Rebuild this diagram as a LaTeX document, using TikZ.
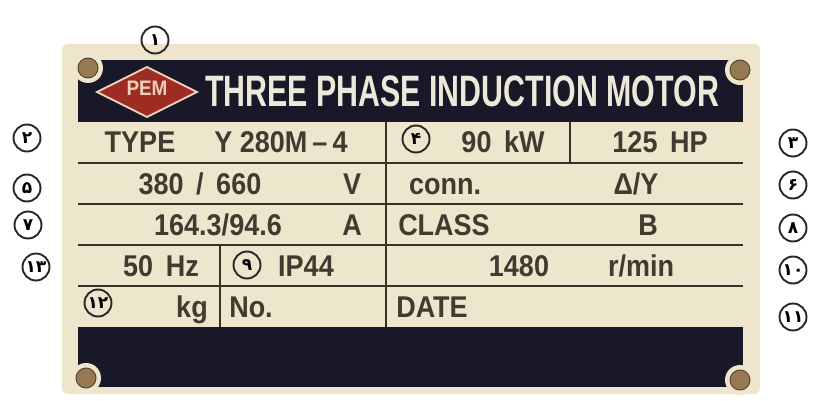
\documentclass[tikz,border=0pt]{standalone}
\usepackage{fontspec}
\usepackage{tikz}
\usetikzlibrary{shapes,arrows}
\usetikzlibrary{calc}

\newfontfamily\platefont[FakeStretch=0.9]{Liberation Sans}
\newfontfamily\titlefont[FakeStretch=0.69]{Liberation Sans}
\newfontfamily\fanum[Script=Arabic]{DejaVu Sans}

\definecolor{platecream}{RGB}{238,230,204}
\definecolor{bandblack}{RGB}{24,24,40}
\definecolor{inkbrown}{RGB}{66,58,48}
\definecolor{rulebrown}{RGB}{58,48,40}
\definecolor{logored}{RGB}{158,44,34}
\definecolor{logoedge}{RGB}{236,206,186}
\definecolor{rivetbrown}{RGB}{150,120,82}
\definecolor{titlewhite}{RGB}{236,232,218}

\tikzset{
	numcirc/.style={circle, draw=black!85, line width=1.9pt, minimum size=27pt, inner sep=0pt,
		font=\fanum\bfseries\fontsize{17}{17}\selectfont},
	cell/.style={anchor=base, inner sep=0pt, text=inkbrown,
		font=\platefont\bfseries\fontsize{30}{30}\selectfont},
	platerule/.style={draw=rulebrown, line width=2.6pt},
}

\begin{document}
\begin{tikzpicture}[x=1pt,y=-1pt]
	\useasboundingbox (0,0) rectangle (816,401);
	
	% plate
	\fill[platecream, rounded corners=6pt] (62,44) rectangle (760,394);
	
	% coordinate x of the rules
	\def\xl{78}  % left end
	\def\xr{743} % right end
	\def\xm{386} % middle rule
	\def\xs{570} % short rule, first row
	\def\xk{220} % short rule, last rows
	% coordinate y of the rows
	\def\yt{122} % top of the table
	\def\h{41}   % row height
	\def\yb{327} % bottom of the table
	
	% black bands
	\fill[bandblack] (\xl,60) rectangle (\xr,\yt);
	\fill[bandblack] (\xl,\yb) rectangle (\xr,387);
	
	% rivets
	\foreach \p in {(88,68),(740,70),(86,378),(740,380)}{
		\fill[platecream] \p circle (15);
		\draw[rivetbrown!60!black, fill=rivetbrown, line width=1pt] \p circle (10);
	}
	
	% logo
	\draw[fill=logored, draw=logoedge, line width=2pt] (97,92) -- (147,67) -- (197,92) -- (147,117) -- cycle;
	\node[text=logoedge, inner sep=0pt, font=\platefont\bfseries\fontsize{21}{21}\selectfont] (pem) at (147,88) {PEM};
	
	% title
	\node[anchor=base west, inner sep=0pt, text=titlewhite,
		font=\titlefont\bfseries\fontsize{44}{44}\selectfont] (title) at (205,107) {THREE PHASE INDUCTION MOTOR};
	
	% rules of the table
	\foreach \k in {1,...,4}
		\draw[platerule] (\xl,{\yt+\k*\h}) -- (\xr,{\yt+\k*\h});
	\draw[platerule] (\xm,\yt) -- (\xm,\yb);
	\draw[platerule] (\xs,\yt) -- (\xs,{\yt+\h});
	\draw[platerule] (\xk,{\yt+3*\h}) -- (\xk,\yb);
	
	% first row
	\node[cell] (type) at (140,153) {TYPE};
	\node[cell] (model) at (281,153) {Y 280M\,–\,4};
	\node[cell] (kw) at (503,153) {90 \,kW};
	\node[cell] (hp) at (660,153) {125 \,HP};
	
	% second row
	\node[cell] (volt) at (200,194) {380 \,/\, 660};
	\node[cell] (vunit) at (352,194) {V};
	\node[cell] (conn) at (445,194) {conn.};
	\node[cell] (dy) at (636,194) {Δ/Y};
	
	% third row
	\node[cell] (amp) at (218,235) {164.3/94.6};
	\node[cell] (aunit) at (352,235) {A};
	\node[cell] (class) at (444,235) {CLASS};
	\node[cell] (b) at (648,235) {B};
	
	% fourth row
	\node[cell] (hz) at (161,276) {50 \,Hz};
	\node[cell] (ip) at (306,276) {IP44};
	\node[cell] (rpm) at (519,276) {1480};
	\node[cell] (rmin) at (641,276) {r/min};
	
	% fifth row
	\node[cell] (kg) at (192,317) {kg};
	\node[cell] (no) at (251,317) {No.};
	\node[cell] (date) at (432,317) {DATE};
	
	% numbers in circles
	\node[numcirc] (n1) at (155,40) {۱};
	\node[numcirc] (n2) at (27,138) {۲};
	\node[numcirc] (n3) at (793,143) {۳};
	\node[numcirc] (n4) at (416,139) {۴};
	\node[numcirc] (n5) at (27,188) {۵};
	\node[numcirc] (n6) at (793,185) {۶};
	\node[numcirc] (n7) at (28,225) {۷};
	\node[numcirc] (n8) at (793,228) {۸};
	\node[numcirc] (n9) at (247,265) {۹};
	\node[numcirc] (n10) at (793,270) {۱۰};
	\node[numcirc] (n11) at (793,317) {۱۱};
	\node[numcirc] (n12) at (98,303) {۱۲};
	\node[numcirc] (n13) at (36,267) {۱۳};
\end{tikzpicture}
\end{document}
